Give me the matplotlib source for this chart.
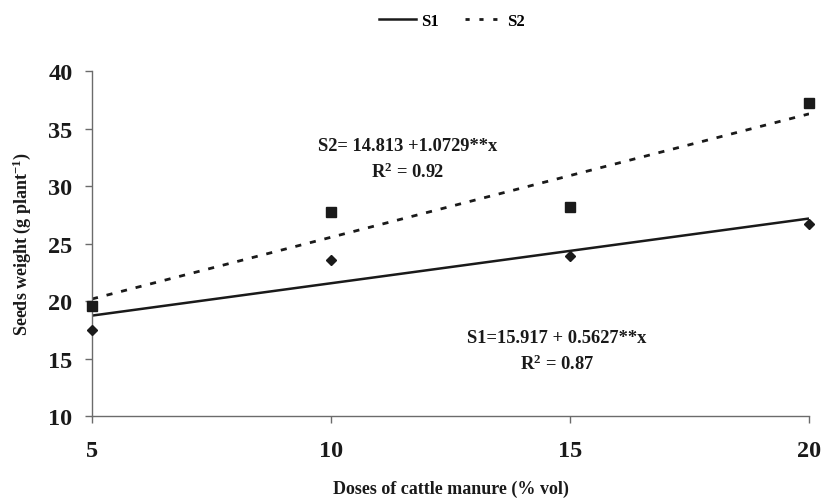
import numpy as np
import matplotlib
matplotlib.use("Agg")
import matplotlib.pyplot as plt
from matplotlib.lines import Line2D

# data
doses = [5, 10, 15, 20]
s1_weight = [17.5, 23.6, 23.9, 26.7]
s2_weight = [19.6, 27.7, 28.2, 37.2]

# regression coefficients printed on the chart (intercept, slope)
s1_fit = (15.917, 0.5627)
s2_fit = (14.813, 1.0729)

plt.rcParams['font.family'] = ['Liberation Serif', 'DejaVu Serif']
plt.rcParams['font.weight'] = 'bold'
plt.rcParams['mathtext.fontset'] = 'custom'
plt.rcParams['mathtext.rm'] = 'Liberation Serif:bold'
plt.rcParams['mathtext.default'] = 'rm'

INK = '#1a1a1a'
AXIS = '#6b6b6b'

fig = plt.figure(figsize=(8.25, 5.02), dpi=100)
ax = fig.add_axes([92 / 825, 1 - 417 / 502, (809 - 92) / 825, (417 - 72) / 502])

xs = np.array([doses[0], doses[-1]], dtype=float)
ax.plot(xs, s1_fit[0] + s1_fit[1] * xs, color=INK, lw=1.8, solid_capstyle='butt')
ax.plot(xs, s2_fit[0] + s2_fit[1] * xs, color=INK, lw=2.0, dashes=(2.2, 3.2))

ax.plot(doses, s1_weight, 'D', color=INK, ms=5.5, clip_on=False, zorder=4)
ax.plot(doses, s2_weight, 's', color=INK, ms=7, clip_on=False, zorder=4)

ax.set_xlim(5, 20)
ax.set_ylim(10, 40)
ax.set_xticks(doses)
ax.set_yticks(np.arange(10, 41, 5))

for side in ('top', 'right'):
    ax.spines[side].set_visible(False)
for side in ('left', 'bottom'):
    ax.spines[side].set_color(AXIS)
    ax.spines[side].set_linewidth(1.0)

ax.tick_params(axis='both', direction='out', color=AXIS, width=1.0, length=5,
               labelsize=17.5, labelcolor=INK)
ax.tick_params(axis='x', pad=12)
ax.tick_params(axis='y', pad=9)

ax.set_xlabel('Doses of cattle manure (% vol)', fontsize=13, fontweight='bold',
              color=INK, labelpad=14)
ax.set_ylabel(r'Seeds weight (g plant$^{\mathregular{-1}}$)', fontsize=13,
              fontweight='bold', color=INK, labelpad=11)

# equation labels
eq_style = dict(ha='center', va='center', fontsize=13.3, fontweight='bold', color=INK)
fig.text(408 / 825, 1 - 147 / 502, 'S2= 14.813 +1.0729**x', **eq_style)
fig.text(408 / 825, 1 - 172 / 502, r'R$^{\mathregular{2}}$ = 0.92', **eq_style)
fig.text(557 / 825, 1 - 339 / 502, 'S1=15.917 + 0.5627**x', **eq_style)
fig.text(557 / 825, 1 - 364 / 502, r'R$^{\mathregular{2}}$ = 0.87', **eq_style)

handles = [Line2D([], [], color=INK, lw=1.8),
           Line2D([], [], color=INK, lw=2.0, dashes=(1.5, 3.5))]
fig.legend(handles, ['S1', 'S2'], loc='center', bbox_to_anchor=(452 / 825, 1 - 22 / 502),
           ncol=2, frameon=False, handlelength=2.2, handletextpad=0.3,
           columnspacing=1.6, prop={'weight': 'bold', 'size': 12})

fig.savefig('out.png', dpi=100, facecolor='white')
